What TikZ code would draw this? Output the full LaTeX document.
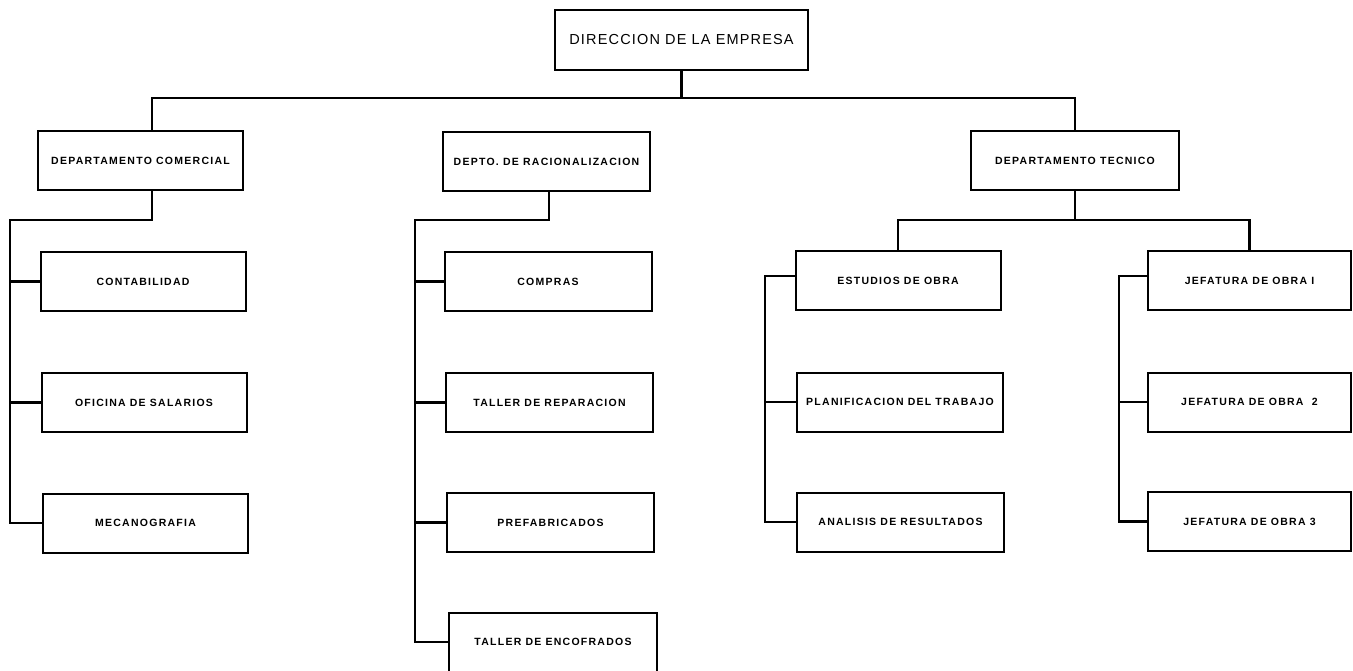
\documentclass[tikz,border=0pt]{standalone}
\usepackage{fontspec}
\setmainfont{Liberation Sans}
\newfontfamily\cajafont{Liberation Sans}[LetterSpace=12]
\newfontfamily\titfont{Liberation Sans}[LetterSpace=8]
\usepackage{tikz}

\begin{document}
\begin{tikzpicture}[x=1pt,y=-1pt,
	linea/.style={draw=black,line width=2.2pt},
	caja/.style={shape=rectangle,draw=black,line width=2pt,inner sep=0pt,
		minimum width=205pt,minimum height=59pt,font=\cajafont\fontsize{10.5}{12}\selectfont\bfseries},
	jefe/.style={caja,minimum width=253pt,minimum height=60pt,font=\titfont\fontsize{14.5}{16}\selectfont}]
	\useasboundingbox (0,0) rectangle (1353,671);

	\node[jefe] (dir) at (681.5,40)     {DIRECCION DE LA EMPRESA};

	\node[caja] (com) at (140.5,161)     {DEPARTAMENTO COMERCIAL};
	\node[caja,minimum width=207pt] (rac) at (546.5,162)     {DEPTO. DE RACIONALIZACION};
	\node[caja,minimum width=208pt] (tec) at (1075,161)     {DEPARTAMENTO TECNICO};

	\node[caja] (cont) at (143,281.5)     {CONTABILIDAD};
	\node[caja] (ofi) at (144,402.5)     {OFICINA DE SALARIOS};
	\node[caja] (mec) at (145.5,523)     {MECANOGRAFIA};

	\node[caja,minimum width=207pt] (comp) at (548,281.5)     {COMPRAS};
	\node[caja,minimum width=207pt] (trep) at (549.5,402.5)     {TALLER DE REPARACION};
	\node[caja,minimum width=207pt] (pref) at (550.5,522.5)     {PREFABRICADOS};
	\node[caja,minimum width=208pt] (tenc) at (553,642)     {TALLER DE ENCOFRADOS};

	\node[caja] (est) at (898,281)     {ESTUDIOS DE OBRA};
	\node[caja,minimum width=206pt] (plan) at (900,402)     {PLANIFICACION DEL TRABAJO};
	\node[caja,minimum width=207pt] (ana) at (900.5,522)     {ANALISIS DE RESULTADOS};

	\node[caja,minimum width=203pt] (jef1) at (1249.5,281)     {JEFATURA DE OBRA I};
	\node[caja,minimum width=203pt] (jef2) at (1249.5,402)     {JEFATURA DE OBRA \ 2};
	\node[caja,minimum width=203pt] (jef3) at (1249.5,521.5)     {JEFATURA DE OBRA 3};

	% linea principal
	\coordinate (bus) at (681.5,98);
	\path[linea] (dir.south) -- (bus);
	\path[linea] (152,191 |- com.north) -- (152,98) -- (tec.north |- bus) -- (tec.north);

	% departamento comercial
	\coordinate (cv) at (10,220);
	\path[linea] (152,191) -- (152,220) -- (cv) -- (cv |- mec.west) -- (mec.west);
	\path[linea] (cv |- cont.west) -- (cont.west);
	\path[linea] (cv |- ofi.west) -- (ofi.west);

	% depto. de racionalizacion
	\coordinate (rv) at (415,220);
	\path[linea] (549,192) -- (549,220) -- (rv) -- (rv |- tenc.west) -- (tenc.west);
	\path[linea] (rv |- comp.west) -- (comp.west);
	\path[linea] (rv |- trep.west) -- (trep.west);
	\path[linea] (rv |- pref.west) -- (pref.west);

	% departamento tecnico
	\coordinate (tv) at (1075,220);
	\path[linea] (tec.south) -- (tv);
	\path[linea] (est.north) -- (est.north |- tv) -- (jef1.north |- tv) -- (jef1.north);

	\coordinate (ev) at (765,276);
	\path[linea] (est.west |- ev) -- (ev) -- (ev |- ana.west) -- (ana.west);
	\path[linea] (ev |- plan.west) -- (plan.west);

	\coordinate (jv) at (1119,276);
	\path[linea] (jef1.west |- jv) -- (jv) -- (jv |- jef3.west) -- (jef3.west);
	\path[linea] (jv |- jef2.west) -- (jef2.west);

\end{tikzpicture}
\end{document}
